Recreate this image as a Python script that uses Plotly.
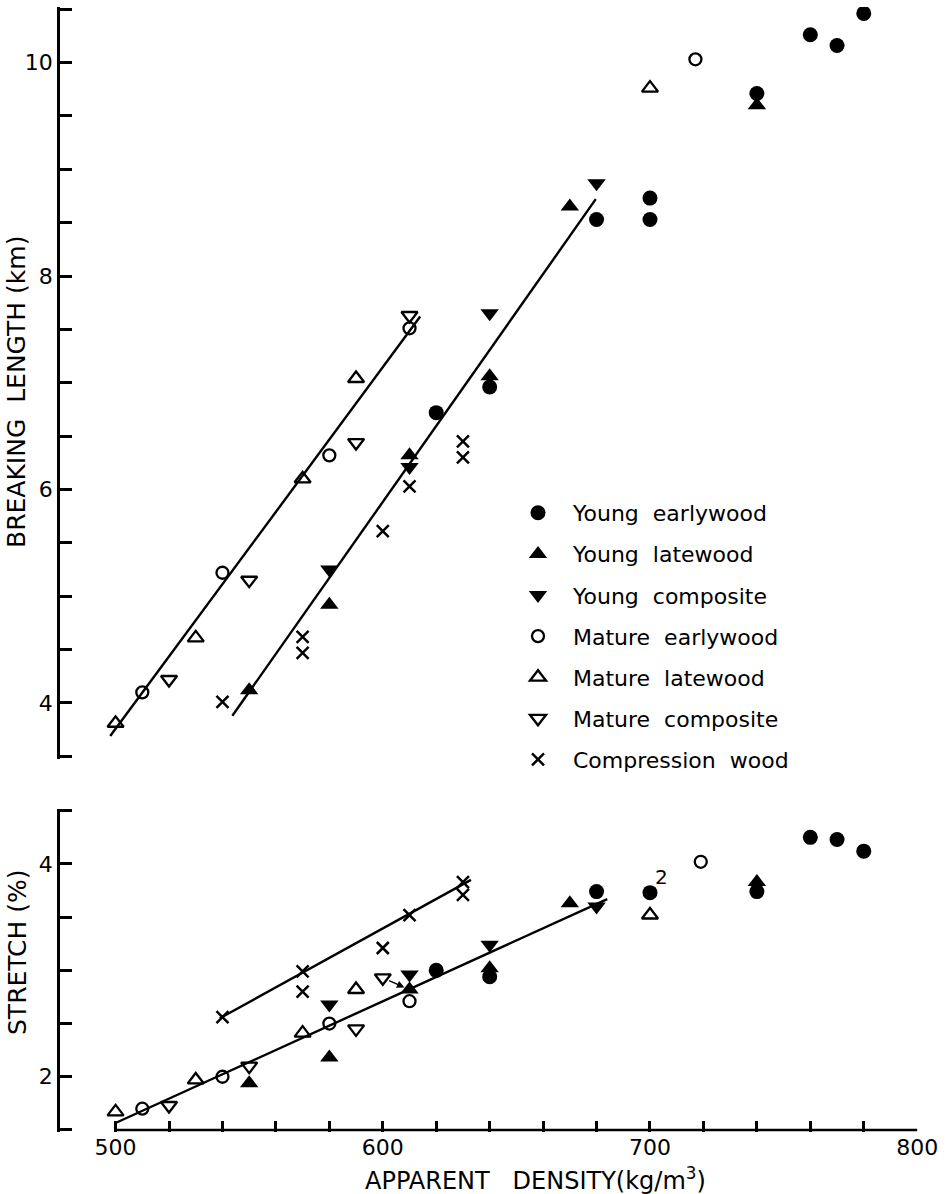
import plotly.graph_objects as go

# ---------------- data ----------------
# Breaking length (km) vs apparent density (kg/m3)
ye_bl_x = [620, 640, 680, 700, 700, 740, 760, 770, 780]
ye_bl_y = [6.72, 6.96, 8.53, 8.73, 8.53, 9.71, 10.26, 10.16, 10.46]
yl_bl_x = [550, 580, 610, 640, 670, 740]
yl_bl_y = [4.12, 4.92, 6.32, 7.06, 8.65, 9.60]
yc_bl_x = [580, 610, 640, 680]
yc_bl_y = [5.25, 6.21, 7.65, 8.87]
me_bl_x = [510, 540, 580, 610, 717]
me_bl_y = [4.10, 5.22, 6.32, 7.51, 10.03]
ml_bl_x = [500, 530, 570, 590, 700]
ml_bl_y = [3.81, 4.61, 6.10, 7.04, 9.76]
mc_bl_x = [520, 550, 590, 610]
mc_bl_y = [4.22, 5.15, 6.44, 7.63]
cw_bl_x = [540, 570, 570, 600, 610, 630, 630]
cw_bl_y = [4.01, 4.62, 4.47, 5.61, 6.03, 6.45, 6.30]

# Stretch (%) vs apparent density
ye_st_x = [620, 640, 680, 700, 740, 760, 770, 780]
ye_st_y = [3.00, 2.94, 3.74, 3.73, 3.74, 4.25, 4.23, 4.12]
yl_st_x = [550, 580, 610, 640, 670, 740]
yl_st_y = [1.94, 2.18, 2.82, 3.02, 3.63, 3.83]
yc_st_x = [580, 610, 640, 680]
yc_st_y = [2.68, 2.96, 3.24, 3.60]
me_st_x = [510, 540, 580, 610, 719]
me_st_y = [1.70, 2.00, 2.50, 2.71, 4.02]
ml_st_x = [500, 530, 570, 590, 700]
ml_st_y = [1.67, 1.97, 2.41, 2.82, 3.52]
mc_st_x = [520, 550, 590, 600]
mc_st_y = [1.73, 2.10, 2.45, 2.93]
cw_st_x = [540, 570, 570, 600, 610, 630, 630]
cw_st_y = [2.56, 2.99, 2.80, 3.21, 3.52, 3.83, 3.71]

# fitted lines (end points)
fit_bl_mature_x = [498, 614]
fit_bl_mature_y = [3.69, 7.62]
fit_bl_young_x = [543.7, 679.7]
fit_bl_young_y = [3.88, 8.72]
fit_st_cw_x = [539, 633]
fit_st_cw_y = [2.55, 3.85]
fit_st_main_x = [500.4, 684]
fit_st_main_y = [1.57, 3.67]

# arrow (mature composite at 600 pointing to the 610 cluster) and "2" label
arrow_tail = (601.8, 2.91)
arrow_head = (608.1, 2.84)
dup_label_point = (ye_st_x[3], ye_st_y[3])

x_ticks = list(range(500, 801, 20))
x_tick_text = [str(v) if v % 100 == 0 else "" for v in x_ticks]
bl_ticks = [3.5 + 0.5 * i for i in range(15)]
bl_tick_text = [str(int(v)) if v in (4, 6, 8, 10) else "" for v in bl_ticks]
st_ticks = [1.5, 2.0, 2.5, 3.0, 3.5, 4.0, 4.5]
st_tick_text = [str(int(v)) if v in (2, 4) else "" for v in st_ticks]

SP = "&nbsp;&nbsp;"
series = [
    ("Young" + SP + "earlywood", "circle", 15, 0, ye_bl_x, ye_bl_y, ye_st_x, ye_st_y),
    ("Young" + SP + "latewood", "triangle-up", 16, 0, yl_bl_x, yl_bl_y, yl_st_x, yl_st_y),
    ("Young" + SP + "composite", "triangle-down", 16, 0, yc_bl_x, yc_bl_y, yc_st_x, yc_st_y),
    ("Mature" + SP + "earlywood", "circle-open", 12, 2.3, me_bl_x, me_bl_y, me_st_x, me_st_y),
    ("Mature" + SP + "latewood", "triangle-up-open", 14, 2.3, ml_bl_x, ml_bl_y, ml_st_x, ml_st_y),
    ("Mature" + SP + "composite", "triangle-down-open", 14, 2.3, mc_bl_x, mc_bl_y, mc_st_x, mc_st_y),
    ("Compression" + SP + "wood", "x-thin-open", 12, 2.5, cw_bl_x, cw_bl_y, cw_st_x, cw_st_y),
]

FONT = "DejaVu Sans"
fig = go.Figure()

line_style = dict(color="black", width=2.4)
for fx, fy, ya in [(fit_bl_mature_x, fit_bl_mature_y, "y"),
                   (fit_bl_young_x, fit_bl_young_y, "y"),
                   (fit_st_cw_x, fit_st_cw_y, "y2"),
                   (fit_st_main_x, fit_st_main_y, "y2")]:
    fig.add_trace(go.Scatter(x=fx, y=fy, mode="lines", line=line_style,
                             xaxis="x" if ya == "y" else "x2", yaxis=ya,
                             showlegend=False, hoverinfo="skip"))

for i, (name, sym, size, lw, bx, by, sx, sy) in enumerate(series):
    mk = dict(symbol=sym, size=size, color="black",
              line=dict(color="black", width=lw))
    fig.add_trace(go.Scatter(x=bx, y=by, mode="markers", name=name, marker=mk,
                             xaxis="x", yaxis="y", legendgroup=f"g{i}",
                             showlegend=True))
    fig.add_trace(go.Scatter(x=sx, y=sy, mode="markers", name=name, marker=mk,
                             xaxis="x2", yaxis="y2", legendgroup=f"g{i}",
                             showlegend=False))

tick_font = dict(family=FONT, size=22, color="black")
common_y = dict(showline=True, linecolor="black", linewidth=2.5,
                ticks="inside", ticklen=12, tickwidth=2.5, tickcolor="black",
                showgrid=False, zeroline=False, tickfont=tick_font,
                tickmode="array")

# plot area: top edge 6 px, bottom edge 1132 px (height 1126)
H0, PH = 1132, 1126


def py(p):
    return (H0 - p) / PH


fig.update_layout(
    width=952, height=1194,
    margin=dict(l=60, r=34, t=6, b=62),
    paper_bgcolor="white", plot_bgcolor="white",
    font=dict(family=FONT, color="black"),
    xaxis=dict(domain=[0, 1], anchor="y", range=[479.2, 800.3], visible=False,
               showgrid=False, zeroline=False),
    yaxis=dict(domain=[py(758.5), py(7)], anchor="x", range=[3.48, 10.52],
               tickvals=bl_ticks, ticktext=bl_tick_text, **common_y),
    xaxis2=dict(domain=[0, 1], anchor="y2", matches="x", range=[479.2, 800.3],
                showline=False, ticks="inside", ticklen=11, tickwidth=2.5,
                tickcolor="black", tickmode="array", tickvals=x_ticks,
                ticktext=x_tick_text, tickfont=tick_font, showgrid=False,
                zeroline=False),
    yaxis2=dict(domain=[0, py(808.7)], anchor="x2", range=[1.481, 4.519],
                tickvals=st_ticks, ticktext=st_tick_text, **common_y),
    legend=dict(x=(503 - 60) / 858, y=py(492), xanchor="left",
                yanchor="top", font=dict(family=FONT, size=22, color="black"),
                tracegroupgap=9.5, itemwidth=60, bgcolor="rgba(0,0,0,0)"),
    showlegend=True,
)

# x axis baseline from 500 to 800 at the bottom of the stretch axis
fig.add_shape(type="line", xref="x2", yref="y2", x0=x_ticks[0], x1=x_ticks[-1],
              y0=st_ticks[0], y1=st_ticks[0], line=dict(color="black", width=2.5))

# axis titles
fig.add_annotation(text="BREAKING&nbsp; LENGTH (km)", xref="paper", yref="paper",
                   x=0, y=py(392), xshift=-44, textangle=-90,
                   showarrow=False, xanchor="center", yanchor="middle",
                   font=dict(family=FONT, size=25, color="black"))
fig.add_annotation(text="STRETCH (%)", xref="paper", yref="paper",
                   x=0, y=py(952), xshift=-43, textangle=-90,
                   showarrow=False, xanchor="center", yanchor="middle",
                   font=dict(family=FONT, size=25, color="black"))
fig.add_annotation(text="APPARENT&nbsp;&nbsp; DENSITY(kg/m<sup>3</sup>)", xref="paper",
                   yref="paper", x=(535 - 60) / 858, y=py(1179),
                   showarrow=False, xanchor="center", yanchor="middle",
                   font=dict(family=FONT, size=24, color="black"))

# "2" label and small arrow
fig.add_annotation(text="2", x=dup_label_point[0], y=dup_label_point[1],
                   xref="x2", yref="y2", xshift=12, yshift=16, showarrow=False,
                   font=dict(family=FONT, size=20, color="black"))
fig.add_annotation(x=arrow_head[0], y=arrow_head[1], ax=arrow_tail[0],
                   ay=arrow_tail[1], xref="x2", yref="y2", axref="x2",
                   ayref="y2", text="", showarrow=True, arrowhead=2,
                   arrowsize=1, arrowwidth=1.5, arrowcolor="black")

fig.write_html("out.html")
